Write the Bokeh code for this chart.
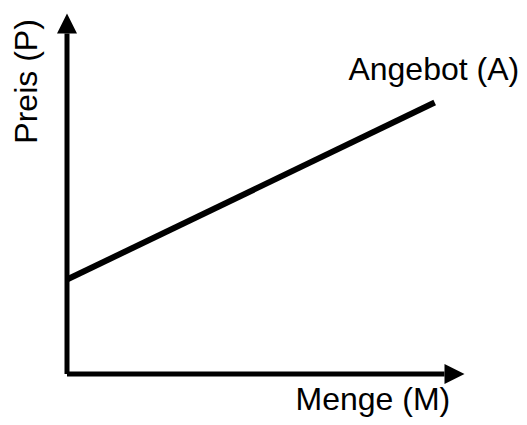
from bokeh.plotting import figure
from bokeh.models import Range1d, Arrow, NormalHead, Label
from bokeh.embed import file_html
from bokeh.resources import INLINE
import math

# Data (in quantity / price units)
quantity = [0.0, 9.25]      # Menge (M)
price = [2.62, 7.53]        # Preis (P) on supply curve
axis_max_x = 10.0
axis_max_y = 10.0
x_label = "Menge (M)"
y_label = "Preis (P)"
curve_label = "Angebot (A)"

p = figure(width=519, height=417, output_backend="svg", toolbar_location=None,
           x_range=Range1d(-1.673, 11.384), y_range=Range1d(-1.2067, 10.3606),
           min_border=0, min_border_left=0, min_border_right=0,
           min_border_top=0, min_border_bottom=0)
p.xaxis.visible = False
p.yaxis.visible = False
p.grid.visible = False
p.outline_line_color = None
p.background_fill_color = "white"
p.border_fill_color = "white"

# Axes with arrow heads
p.add_layout(Arrow(end=NormalHead(size=20, fill_color="black", line_color="black", line_width=0),
                   x_start=0, y_start=0, x_end=0, y_end=axis_max_y,
                   line_color="black", line_width=5))
p.add_layout(Arrow(end=NormalHead(size=20, fill_color="black", line_color="black", line_width=0),
                   x_start=0, y_start=0, x_end=axis_max_x, y_end=0,
                   line_color="black", line_width=5))

# Supply curve
p.line(quantity, price, line_color="black", line_width=6)

font = "Liberation Sans"
p.add_layout(Label(x=7.08, y=8.474, text=curve_label, text_font=font,
                   text_font_size="32px", text_color="black",
                   text_align="left", text_baseline="alphabetic"))
p.add_layout(Label(x=5.75, y=-0.707, text=x_label, text_font=font,
                   text_font_size="32px", text_color="black",
                   text_align="left", text_baseline="alphabetic"))
p.add_layout(Label(x=-1.044, y=6.39, text=y_label, text_font=font,
                   text_font_size="32px", text_color="black", angle=math.pi / 2,
                   text_align="left", text_baseline="alphabetic"))

open("out.html", "w").write(file_html(p, INLINE))
